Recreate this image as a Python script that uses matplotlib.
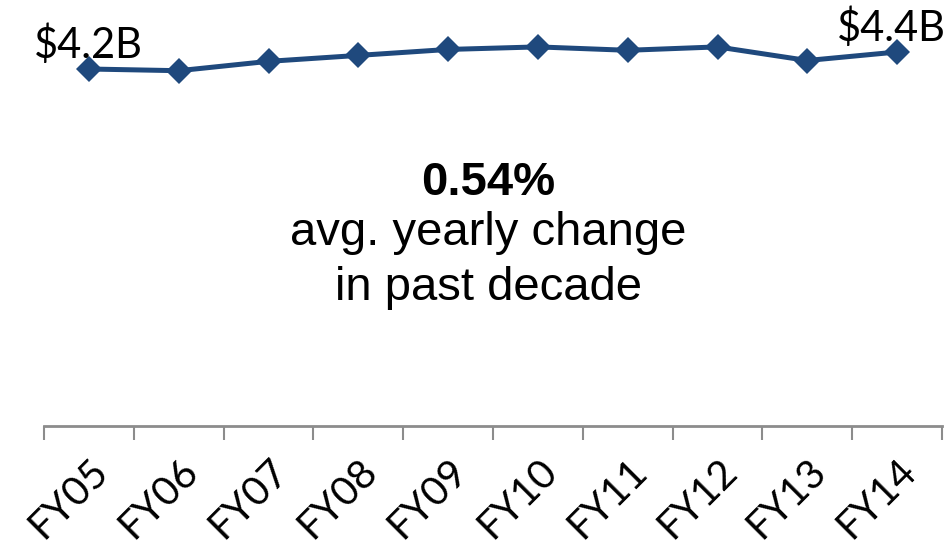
import matplotlib
matplotlib.use("Agg")
import matplotlib.pyplot as plt

# Annual budget, billions of dollars
years = ["FY05", "FY06", "FY07", "FY08", "FY09", "FY10", "FY11", "FY12", "FY13", "FY14"]
budget = [4.20, 4.18, 4.29, 4.36, 4.43, 4.46, 4.42, 4.46, 4.30, 4.40]
end_labels = ["$4.2B", "$4.4B"]

line_color = "#1F497D"
label_font = "Lato"
body_font = "Liberation Sans"

fig = plt.figure(figsize=(9.48, 5.53), dpi=100)
ax = fig.add_axes([44 / 948, (553 - 426) / 553, 898 / 948, 425 / 553])

x = list(range(len(years)))
ax.plot(x, budget, color=line_color, linewidth=3.6, marker="D", markersize=13,
        markeredgewidth=0, solid_joinstyle="round")

ax.set_xlim(-0.5, len(years) - 0.5)
ax.set_ylim(0, 5)

# Only the bottom axis is shown; tick marks sit between categories
for side in ["left", "right", "top"]:
    ax.spines[side].set_visible(False)
ax.spines["bottom"].set_color("#8C8C8C")
ax.spines["bottom"].set_linewidth(2)
ax.set_yticks([])

ax.set_xticks(x)
ax.set_xticklabels(years, rotation=45, ha="right", rotation_mode="anchor",
                   fontsize=29, family=label_font)
ax.tick_params(axis="x", which="major", length=0, pad=19)
ax.set_xticks([i - 0.5 for i in range(len(years) + 1)], minor=True)
ax.tick_params(axis="x", which="minor", length=10, width=1.5, color="#8C8C8C")

# Value labels at the first and last year (last one nudged inside the figure)
for idx, txt, dx in zip([0, len(years) - 1], end_labels, [0, -4]):
    ax.annotate(txt, (x[idx], budget[idx]), xytext=(dx, 8), textcoords="offset points",
                ha="center", va="baseline", fontsize=30, family=label_font)

cx = 488 / 948
fig.text(cx, 1 - 195 / 553, "0.54%", ha="center", va="baseline",
         fontsize=34, fontweight="bold", family=body_font)
fig.text(cx, 1 - 245 / 553, "avg. yearly change", ha="center", va="baseline",
         fontsize=34, family=body_font)
fig.text(cx, 1 - 300 / 553, "in past decade", ha="center", va="baseline",
         fontsize=34, family=body_font)

fig.savefig("out.png", dpi=100)
